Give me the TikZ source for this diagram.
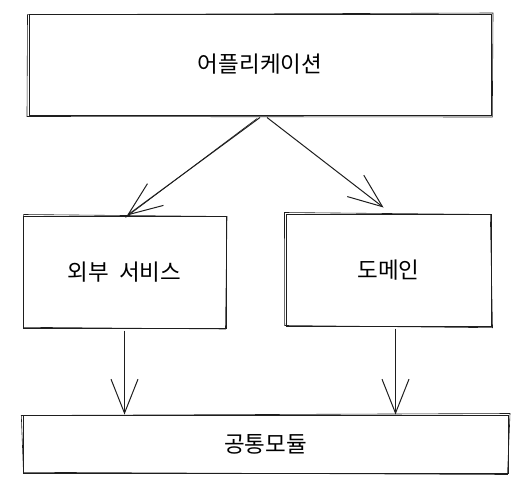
\documentclass[tikz,border=0pt]{standalone}
\usepackage{fontspec}
\newfontfamily\kr{Noto Sans CJK KR}
\usetikzlibrary{arrows.meta,calc}
\definecolor{ink}{HTML}{1E1E1E}
\tikzset{
  box/.style={draw=ink, line width=1pt, minimum width=#1, inner sep=0pt, font=\kr\fontsize{22.5}{26}\selectfont},
  sketch/.style={draw=ink, line width=0.6pt},
  conn/.style={draw=ink, line width=1pt, -{Straight Barb[length=34pt,width=27pt,line width=1pt]}}
}
\begin{document}
\begin{tikzpicture}[x=1pt,y=-1pt]
\useasboundingbox (0,0) rectangle (527,490);
\node[box=462pt, minimum height=101pt] (app) at (260,64.5) {어플리케이션};
\node[box=203pt, minimum height=112pt] (ext) at (124.5,272) {외부\ \ 서비스};
\node[box=205pt, minimum height=112pt] (dom) at (388.5,270) {도메인};
\node[box=485pt, minimum height=58pt] (com) at (265.5,444) {공통모듈};
% second sketch strokes
\draw[sketch] ([shift={(-1,1.2)}]app.north west) -- ([shift={(1.5,-0.5)}]app.north east) -- ([shift={(0.8,1.5)}]app.south east) -- ([shift={(-1.5,1)}]app.south west) -- cycle;
\draw[sketch] ([shift={(1.2,-1)}]ext.north west) -- ([shift={(0.5,1)}]ext.north east) -- ([shift={(-1,0.5)}]ext.south east) -- ([shift={(1,-1.2)}]ext.south west) -- cycle;
\draw[sketch] ([shift={(-1,-1)}]dom.north west) -- ([shift={(-1.2,1)}]dom.north east) -- ([shift={(1,1.2)}]dom.south east) -- ([shift={(-0.8,-1)}]dom.south west) -- cycle;
\draw[sketch] ([shift={(-1.2,1)}]com.north west) -- ([shift={(1.5,-1)}]com.north east) -- ([shift={(-1,1)}]com.south east) -- ([shift={(1,-1.2)}]com.south west) -- cycle;
% connectors
\draw[conn] ([xshift=0pt,yshift=-2pt]app.south) -- ([xshift=2.5pt]ext.north);
\draw[sketch] ([xshift=-3pt,yshift=-3pt]app.south) -- ([xshift=1pt,yshift=-2pt]ext.north);
\draw[conn] ([xshift=7pt,yshift=-2pt]app.south) -- ([xshift=-5pt,yshift=6pt]dom.north);
\draw[conn] ([yshift=-2pt]ext.south) -- (ext.south |- com.north);
\draw[conn] ([xshift=7pt,yshift=-2pt]dom.south) -- ([xshift=7pt]dom.south |- com.north);
\end{tikzpicture}
\end{document}
